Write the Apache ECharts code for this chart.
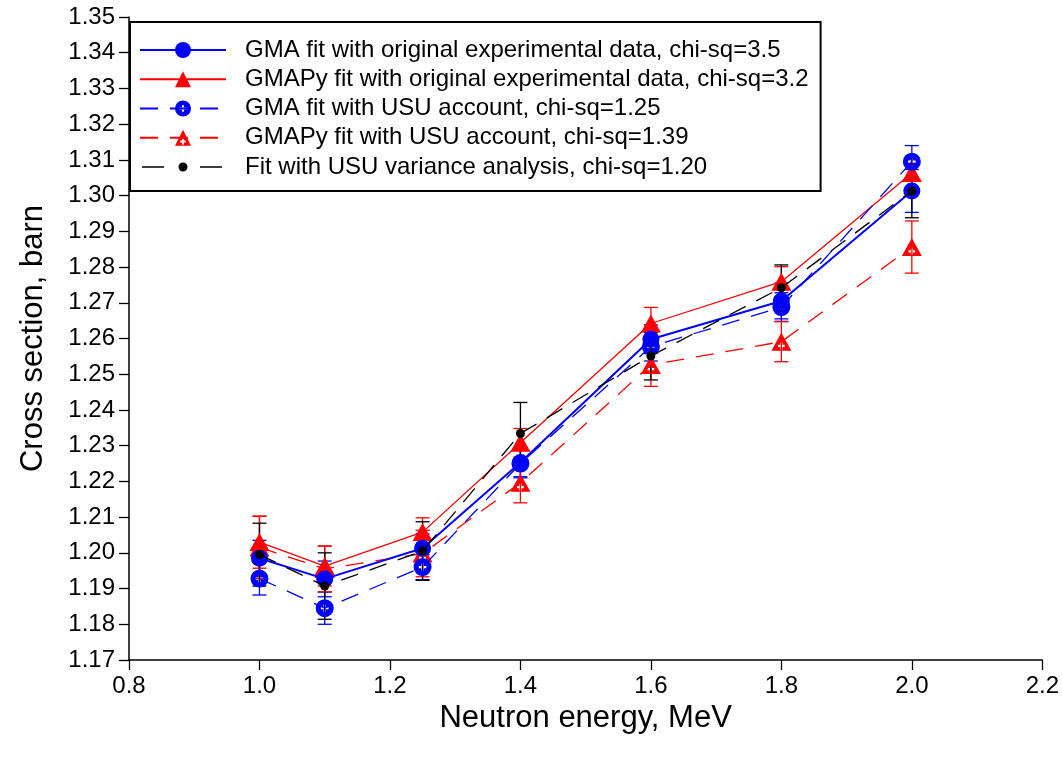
<!DOCTYPE html>
<html>
<head>
<meta charset="utf-8">
<script src="https://cdn.jsdelivr.net/npm/echarts@6/dist/echarts.min.js"></script>
<style>
html,body{margin:0;padding:0;background:#fff;}
#chart{width:1062px;height:762px;}
</style>
</head>
<body>
<div id="chart"></div>
<script>
// ---- data ----
const energies   = [1.0, 1.1, 1.25, 1.4, 1.6, 1.8, 2.0];
const gmaOrig    = [1.1985, 1.1927, 1.2013, 1.2253, 1.2598, 1.2705, 1.3013];
const gmapyOrig  = [1.2030, 1.1963, 1.2058, 1.2308, 1.2642, 1.2759, 1.3063];
const gmaUsu     = [1.1928, 1.1845, 1.1960, 1.2250, 1.2577, 1.2688, 1.3095];
const gmapyUsu   = [1.2015, 1.1955, 1.1998, 1.2196, 1.2526, 1.2591, 1.2856];
const fitUsu     = [1.1995, 1.1907, 1.2005, 1.2334, 1.2551, 1.2742, 1.3013];

const gmaOrigErr   = [0.005, 0.005, 0.004, 0.004, 0.004, 0.005, 0.006];
const gmapyOrigErr = [0.0073, 0.0056, 0.0040, 0.0040, 0.0045, 0.0042, 0.0040];
const gmaUsuErr    = [0.0046, 0.0045, 0.0035, 0.0040, 0.0040, 0.0040, 0.0045];
const gmapyUsuErr  = [0.0087, 0.0064, 0.0065, 0.0056, 0.0060, 0.0056, 0.0073];
const fitUsuErr    = [0.0088, 0.0093, 0.0082, 0.0087, 0.0067, 0.0064, 0.0075];

const seriesNames = [
  'GMA fit with original experimental data, chi-sq=3.5',
  'GMAPy fit with original experimental data, chi-sq=3.2',
  'GMA fit with USU account, chi-sq=1.25',
  'GMAPy fit with USU account, chi-sq=1.39',
  'Fit with USU variance analysis, chi-sq=1.20'
];

const FONT = 'Arial, "Liberation Sans", sans-serif';
const BLUE = '#0000ff', RED = '#ff0000', BLACK = '#000000';

const circlePlus = 'path://M0,-10A10,10,0,1,1,0,10A10,10,0,1,1,0,-10Z' +
  'M-1.2,-4.2L-1.2,-1.2L-4.2,-1.2L-4.2,1.2L-1.2,1.2L-1.2,4.2L1.2,4.2L1.2,1.2L4.2,1.2L4.2,-1.2L1.2,-1.2L1.2,-4.2Z';
const triPlus = 'path://M0,-10L11,9L-11,9Z' +
  'M-1.2,0.3L-1.2,2.8L-3.7,2.8L-3.7,5.2L-1.2,5.2L-1.2,7.7L1.2,7.7L1.2,5.2L3.7,5.2L3.7,2.8L1.2,2.8L1.2,0.3Z';
// legend icon for the black series: short dash, small dot, short dash (bbox 86x20)
const dashDotIcon = 'path://M-43,-10L-42.9,-10L-43,-9.9Z M43,10L42.9,10L43,9.9Z' +
  'M-41,-0.7L-19,-0.7L-19,0.7L-41,0.7Z M17,-0.7L39,-0.7L39,0.7L17,0.7Z' +
  'M0,-4.5A4.5,4.5,0,1,1,0,4.5A4.5,4.5,0,1,1,0,-4.5Z';

function pairs(ys){ return energies.map((x,i)=>[x, ys[i]]); }
function errData(ys, es){ return energies.map((x,i)=>[x, ys[i]-es[i], ys[i]+es[i]]); }

function errSeries(name, ys, es, color, z){
  return {
    type: 'custom', name: name, z: z, silent: true,
    data: errData(ys, es),
    renderItem: function(params, api){
      const x = api.value(0);
      const lo = api.coord([x, api.value(1)]);
      const hi = api.coord([x, api.value(2)]);
      const hw = 7;
      const st = {stroke: color, lineWidth: 1.3};
      return {type:'group', children:[
        {type:'line', shape:{x1:lo[0],y1:lo[1],x2:hi[0],y2:hi[1]}, style:st},
        {type:'line', shape:{x1:lo[0]-hw,y1:lo[1],x2:lo[0]+hw,y2:lo[1]}, style:st},
        {type:'line', shape:{x1:hi[0]-hw,y1:hi[1],x2:hi[0]+hw,y2:hi[1]}, style:st}
      ]};
    }
  };
}

const chart = echarts.init(document.getElementById('chart'), null, {renderer:'canvas'});
const option = {
  backgroundColor: '#ffffff',
  animation: false,
  grid: {left:129, right:19, top:17, bottom:102, containLabel:false},
  legend: {
    data: [
      seriesNames[0], seriesNames[1], seriesNames[2], seriesNames[3],
      {name: seriesNames[4], icon: dashDotIcon}
    ],
    orient: 'vertical',
    left: 130, top: 22,
    padding: [16, 12, 12, 9],
    itemWidth: 86, itemHeight: 20, itemGap: 5.25,
    borderColor: BLACK, borderWidth: 2,
    backgroundColor: '#ffffff',
    textStyle: {fontSize: 24, fontFamily: FONT, color: BLACK, lineHeight: 24, padding:[0,0,0,14]}
  },
  xAxis: {
    type: 'value', min: 0.8, max: 2.2, interval: 0.2,
    name: 'Neutron energy, MeV', nameLocation: 'middle', nameGap: 35,
    nameTextStyle: {fontSize: 31, fontFamily: FONT, color: BLACK},
    axisLine: {show:true, onZero:false, lineStyle:{color:BLACK, width:1.5}},
    axisTick: {show:true, inside:false, length:10, lineStyle:{color:BLACK, width:1.3}},
    axisLabel: {fontSize: 24, fontFamily: FONT, color: BLACK, margin: 14,
      formatter: v => v.toFixed(1)},
    splitLine: {show:false}
  },
  yAxis: {
    type: 'value', min: 1.17, max: 1.35, interval: 0.01,
    name: 'Cross section, barn', nameLocation: 'middle', nameGap: 80, nameRotate: 90,
    nameTextStyle: {fontSize: 31, fontFamily: FONT, color: BLACK},
    axisLine: {show:true, onZero:false, lineStyle:{color:BLACK, width:1.5}},
    axisTick: {show:true, inside:false, length:10, lineStyle:{color:BLACK, width:1.3}},
    axisLabel: {fontSize: 24, fontFamily: FONT, color: BLACK, margin: 14,
      formatter: v => v.toFixed(2)},
    splitLine: {show:false}
  },
  series: [
    errSeries('err1', gmaOrig, gmaOrigErr, BLUE, 2),
    errSeries('err2', gmapyOrig, gmapyOrigErr, RED, 2),
    errSeries('err3', gmaUsu, gmaUsuErr, BLUE, 2),
    errSeries('err4', gmapyUsu, gmapyUsuErr, RED, 2),
    errSeries('err5', fitUsu, fitUsuErr, BLACK, 2),
    {
      type:'line', name: seriesNames[0], data: pairs(gmaOrig), z: 5,
      symbol:'circle', symbolSize:17,
      lineStyle:{color:BLUE, width:2}, itemStyle:{color:BLUE}
    },
    {
      type:'line', name: seriesNames[1], data: pairs(gmapyOrig), z: 4,
      symbol:'triangle', symbolSize:[20,18],
      lineStyle:{color:RED, width:1.3}, itemStyle:{color:RED}
    },
    {
      type:'line', name: seriesNames[2], data: pairs(gmaUsu), z: 6,
      symbol: circlePlus, symbolSize:18,
      lineStyle:{color:BLUE, width:1.3, type:[18,12]}, itemStyle:{color:BLUE}
    },
    {
      type:'line', name: seriesNames[3], data: pairs(gmapyUsu), z: 3,
      symbol: triPlus, symbolSize:[20,18],
      lineStyle:{color:RED, width:1.3, type:[18,12]}, itemStyle:{color:RED}
    },
    {
      type:'line', name: seriesNames[4], data: pairs(fitUsu), z: 7,
      symbol:'circle', symbolSize:9,
      lineStyle:{color:BLACK, width:1.3, type:[18,12]}, itemStyle:{color:BLACK}
    }
  ]
};
chart.setOption(option);
</script>
</body>
</html>
